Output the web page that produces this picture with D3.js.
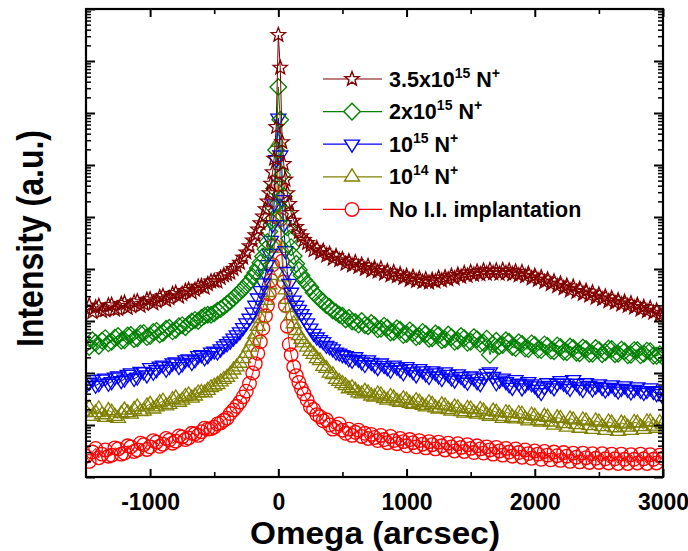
<!DOCTYPE html>
<html><head><meta charset="utf-8">
<script src="https://cdn.jsdelivr.net/npm/d3@7"></script>
<style>body{margin:0;background:#fff}svg{display:block}</style>
</head><body><svg id="c" width="688" height="551"></svg>
<script>
// Omega grid (arcsec)
const omega = [-1500,-1475,-1450,-1425,-1400,-1375,-1350,-1325,-1300,-1275,-1250,-1225,-1200,-1175,-1150,-1125,-1100,-1075,-1050,-1025,
-1000,-975,-950,-925,-900,-875,-850,-825,-800,-775,-750,-725,-700,-675,-650,-625,-600,-575,-550,-525,
-500,-475,-450,-425,-400,-375,-350,-325,-300,-275,-250,-225,
-200,-180,-160,-140,-120,-100,-85,-70,-57,-45,-33,-17,0,15,30,42,55,70,85,100,120,140,160,180,200,
225,250,275,300,325,350,375,400,425,450,475,500,525,550,575,600,625,650,675,700,725,750,775,800,825,850,875,900,925,950,975,1000,
1025,1050,1075,1100,1125,1150,1175,1200,1225,1250,1275,1300,1325,1350,1375,1400,1425,1450,1475,1500,1525,1550,1575,1600,1625,1650,1675,1700,1725,1750,1775,1800,1825,1850,1875,1900,1925,1950,1975,2000,
2025,2050,2075,2100,2125,2150,2175,2200,2225,2250,2275,2300,2325,2350,2375,2400,2425,2450,2475,2500,2525,2550,2575,2600,2625,2650,2675,2700,2725,2750,2775,2800,2825,2850,2875,2900,2925,2950,2975,3000];

// log10(intensity, a.u.) at each omega
const logI_3p5e15 = [3.23,3.30,3.17,3.26,3.29,3.19,3.21,3.30,3.31,3.22,3.23,3.33,3.35,3.25,3.29,3.36,3.38,3.29,3.33,3.41,
3.42,3.34,3.38,3.46,3.48,3.40,3.44,3.52,3.54,3.47,3.52,3.58,3.60,3.55,3.60,3.66,3.67,3.64,3.71,3.76,
3.77,3.76,3.83,3.88,3.90,3.93,4.00,4.06,4.12,4.22,4.32,4.44,
4.55,4.65,4.76,4.88,5.01,5.15,5.30,5.46,5.64,5.86,6.12,6.73,8.50,7.87,6.44,6.02,5.72,5.46,5.25,5.08,4.93,4.81,4.71,4.63,4.56,
4.50,4.45,4.36,4.40,4.31,4.35,4.26,4.29,4.20,4.25,4.17,4.19,4.10,4.15,4.07,4.13,4.04,4.08,4.00,4.06,3.97,4.02,3.95,4.01,3.91,3.96,3.88,3.94,3.86,3.90,3.83,3.87,
3.79,3.85,3.77,3.82,3.75,3.80,3.74,3.79,3.76,3.83,3.78,3.84,3.80,3.87,3.82,3.89,3.85,3.92,3.87,3.94,3.89,3.95,3.90,3.97,3.91,3.98,3.92,3.97,3.91,3.98,3.92,3.97,3.90,3.95,3.88,3.94,3.86,3.91,3.82,3.87,
3.79,3.84,3.75,3.80,3.71,3.76,3.67,3.72,3.63,3.68,3.59,3.66,3.56,3.62,3.52,3.58,3.49,3.55,3.45,3.51,3.42,3.47,3.38,3.44,3.35,3.40,3.32,3.37,3.29,3.34,3.26,3.31,3.22,3.27,3.19,3.25,3.16,3.20,3.12,3.10];
const logI_2e15 = [2.56,2.50,2.63,2.58,2.52,2.62,2.67,2.57,2.60,2.68,2.71,2.62,2.63,2.72,2.73,2.65,2.67,2.76,2.77,2.69,
2.71,2.79,2.81,2.74,2.77,2.85,2.87,2.80,2.83,2.90,2.92,2.88,2.94,2.99,3.02,3.00,3.06,3.10,3.12,3.12,
3.15,3.20,3.23,3.28,3.33,3.38,3.44,3.50,3.56,3.62,3.69,3.76,
3.85,3.93,4.02,4.12,4.24,4.38,4.52,4.72,4.93,5.20,5.55,6.29,7.50,6.87,5.81,5.40,5.08,4.80,4.58,4.42,4.25,4.10,3.98,3.88,3.79,
3.72,3.65,3.55,3.48,3.42,3.37,3.30,3.27,3.20,3.17,3.12,3.10,3.03,3.06,2.99,2.98,2.93,3.00,2.92,2.90,2.96,2.92,2.84,2.85,2.91,2.87,2.78,2.79,2.86,2.83,2.73,2.75,
2.82,2.77,2.69,2.71,2.79,2.75,2.66,2.67,2.76,2.73,2.63,2.65,2.74,2.69,2.60,2.62,2.71,2.67,2.58,2.60,2.69,2.65,2.56,2.58,2.66,2.35,2.55,2.62,2.52,2.54,2.63,2.60,2.50,2.48,2.59,2.56,2.47,2.46,2.57,2.54,
2.45,2.44,2.55,2.52,2.43,2.42,2.53,2.50,2.41,2.40,2.51,2.48,2.39,2.38,2.49,2.46,2.37,2.37,2.48,2.44,2.36,2.40,2.47,2.46,2.36,2.37,2.45,2.42,2.34,2.35,2.44,2.44,2.34,2.37,2.43,2.42,2.33,2.33,2.36,2.31];
const logI_1e15 = [1.75,1.82,1.87,1.76,1.79,1.88,1.90,1.80,1.83,1.92,1.94,1.85,1.88,1.97,2.00,1.89,1.92,2.03,2.02,1.96,
2.10,2.01,2.06,2.13,2.15,2.07,2.12,2.19,2.21,2.12,2.17,2.25,2.27,2.20,2.25,2.33,2.35,2.29,2.33,2.40,
2.42,2.40,2.46,2.52,2.56,2.61,2.67,2.73,2.79,2.87,2.96,3.05,
3.17,3.30,3.44,3.58,3.73,3.90,4.08,4.30,4.55,4.85,5.25,6.10,6.90,6.19,5.33,4.85,4.35,3.95,3.72,3.55,3.40,3.30,3.22,3.14,3.06,
2.96,2.86,2.76,2.69,2.64,2.60,2.53,2.50,2.46,2.40,2.38,2.35,2.33,2.27,2.24,2.31,2.26,2.21,2.16,2.25,2.20,2.15,2.10,2.19,2.14,2.10,2.05,2.15,2.11,2.06,2.00,2.12,
2.08,2.02,1.96,2.08,2.04,1.98,1.93,2.04,2.00,1.94,1.89,2.02,1.97,1.90,1.86,1.98,1.93,1.87,1.82,1.94,1.90,1.83,1.79,1.92,1.99,2.02,1.93,1.81,1.86,1.90,1.83,1.77,1.72,1.87,1.80,1.71,1.77,1.83,1.79,1.75,
1.68,1.62,1.73,1.81,1.76,1.71,1.80,1.85,1.80,1.75,1.70,1.87,1.80,1.73,1.68,1.81,1.76,1.69,1.74,1.79,1.72,1.67,1.72,1.77,1.70,1.65,1.70,1.75,1.68,1.63,1.68,1.73,1.66,1.62,1.66,1.71,1.64,1.60,1.66,1.54];
const logI_1e14 = [1.25,1.33,1.17,1.24,1.31,1.20,1.15,1.28,1.25,1.17,1.13,1.22,1.29,1.24,1.21,1.30,1.35,1.26,1.27,1.37,
1.40,1.31,1.35,1.43,1.46,1.37,1.40,1.49,1.52,1.44,1.48,1.55,1.58,1.52,1.56,1.62,1.63,1.62,1.67,1.72,
1.75,1.78,1.83,1.88,1.92,1.98,2.06,2.12,2.19,2.28,2.38,2.50,
2.62,2.75,2.90,3.05,3.25,3.40,3.55,3.70,3.88,4.10,4.45,5.00,6.44,5.20,4.40,3.85,3.60,3.42,3.26,3.10,2.95,2.82,2.72,2.65,2.58,
2.50,2.42,2.36,2.28,2.24,2.13,2.09,2.00,1.97,1.88,1.84,1.80,1.76,1.70,1.72,1.67,1.62,1.60,1.65,1.62,1.56,1.54,1.60,1.58,1.51,1.48,1.55,1.52,1.46,1.44,1.51,1.48,
1.42,1.40,1.47,1.44,1.38,1.35,1.43,1.40,1.33,1.31,1.39,1.37,1.30,1.27,1.35,1.33,1.26,1.23,1.32,1.31,1.24,1.21,1.30,1.27,1.20,1.17,1.27,1.25,1.17,1.13,1.24,1.23,1.15,1.12,1.22,1.21,1.12,1.08,1.19,1.17,
1.09,1.06,1.17,1.15,1.06,1.00,1.14,1.13,1.03,0.96,1.12,1.10,1.01,0.94,1.10,1.08,0.99,0.92,1.08,1.06,0.97,0.90,1.06,1.04,0.95,0.88,1.04,1.02,0.96,0.90,1.05,1.04,0.97,0.92,1.06,1.06,0.98,0.94,1.05,1.02];
const logI_none = [0.40,0.30,0.48,0.55,0.37,0.44,0.52,0.40,0.42,0.56,0.54,0.44,0.46,0.60,0.58,0.49,0.52,0.65,0.62,0.53,
0.58,0.70,0.67,0.59,0.63,0.74,0.71,0.65,0.69,0.79,0.77,0.72,0.75,0.84,0.83,0.80,0.87,0.94,0.92,0.93,
0.96,1.02,1.04,1.09,1.13,1.22,1.29,1.36,1.44,1.54,1.65,1.80,
2.00,2.18,2.38,2.60,2.86,3.10,3.30,3.52,3.78,4.08,4.45,5.00,5.62,4.95,4.15,3.75,3.30,2.90,2.55,2.35,2.12,1.95,1.82,1.70,1.60,
1.48,1.35,1.30,1.20,1.16,1.08,1.10,1.00,0.92,0.96,1.02,0.90,0.84,0.92,0.80,0.86,0.90,0.78,0.84,0.74,0.82,0.76,0.70,0.80,0.72,0.66,0.78,0.70,0.64,0.74,0.68,0.60,
0.72,0.66,0.58,0.70,0.63,0.56,0.68,0.62,0.54,0.67,0.60,0.52,0.65,0.58,0.50,0.64,0.57,0.49,0.62,0.55,0.47,0.60,0.54,0.46,0.58,0.52,0.44,0.57,0.50,0.42,0.55,0.48,0.40,0.54,0.47,0.38,0.52,0.45,0.36,0.50,
0.44,0.34,0.49,0.42,0.33,0.48,0.41,0.32,0.47,0.40,0.30,0.46,0.38,0.29,0.46,0.37,0.28,0.45,0.36,0.28,0.45,0.35,0.27,0.44,0.35,0.26,0.44,0.34,0.26,0.43,0.34,0.27,0.44,0.35,0.26,0.43,0.34,0.27,0.42,0.36];

const xMajorTicks = [-1000,0,1000,2000,3000];
const xMinorTicks = [-500,500,1500,2500];
const legendBase = ["3.5x10","2x10","10","10","No I.I. implantation"];
const legendExp = ["15","15","15","14",""];
const colors = ["#800000","#008000","#0000ff","#808000","#ff0000"];

// ---------- drawing ----------
const svg = d3.select("#c");
const L=86, R=663, T=9, B=477;
const x = d3.scaleLinear().domain([-1500,3000]).range([L,R]);
const y = d3.scaleLog().domain([1,1e9]).range([B,T]);

const symStar = {draw(c,r){const ri=r*0.42;for(let i=0;i<10;i++){const a=-Math.PI/2+i*Math.PI/5,rr=i%2?ri:r;const px=rr*Math.cos(a),py=rr*Math.sin(a);i?c.lineTo(px,py):c.moveTo(px,py);}c.closePath();}};
const symDiamond = {draw(c,r){c.moveTo(0,-r);c.lineTo(r,0);c.lineTo(0,r);c.lineTo(-r,0);c.closePath();}};
const symTriDown = {draw(c,r){c.moveTo(-r,-r*0.55);c.lineTo(r,-r*0.55);c.lineTo(0,r*1.05);c.closePath();}};
const symTriUp = {draw(c,r){c.moveTo(-r,r*0.55);c.lineTo(r,r*0.55);c.lineTo(0,-r*1.05);c.closePath();}};
const symCircle = {draw(c,r){c.moveTo(r,0);c.arc(0,0,r,0,2*Math.PI);}};

const raw = [
  {vals:logI_3p5e15, sym:symStar, r:7.5},
  {vals:logI_2e15, sym:symDiamond, r:8.3},
  {vals:logI_1e15, sym:symTriDown, r:7.5},
  {vals:logI_1e14, sym:symTriUp, r:7.5},
  {vals:logI_none, sym:symCircle, r:6.8}
];
const series = raw.map((s,i)=>({...s,color:colors[i],pts:omega.map((o,j)=>({o,v:Math.pow(10,s.vals[j])})).filter(d=>isFinite(d.v))}));

svg.append("defs").append("clipPath").attr("id","clip")
  .append("rect").attr("x",L).attr("y",T).attr("width",R-L).attr("height",B-T);

const plot = svg.append("g").attr("clip-path","url(#clip)");
const line = d3.line().x(d=>x(d.o)).y(d=>y(d.v));
series.slice().reverse().forEach(s=>{
  const g = plot.append("g");
  g.append("path").attr("d",line(s.pts)).attr("fill","none").attr("stroke",s.color).attr("stroke-width",1);
  const sym = d3.symbol().type(s.sym).size(s.r);
  g.selectAll("path.m").data(s.pts).join("path").attr("class","m")
    .attr("transform",d=>`translate(${x(d.o)},${y(d.v)})`)
    .attr("d",sym()).attr("fill","none").attr("stroke",s.color).attr("stroke-width",1.3);
});

// axes
const fontF = "'Liberation Sans', Arial, Helvetica, sans-serif";
const yMajor = d3.range(0,10).map(k=>Math.pow(10,k));
const yMinor = [];
for(let k=0;k<9;k++) for(let m=2;m<=9;m++) yMinor.push(m*Math.pow(10,k));

function styleAxis(g, w){ g.select(".domain").remove(); g.selectAll(".tick line").attr("stroke","#000").attr("stroke-width",w); }

svg.append("g").attr("transform",`translate(0,${B})`)
  .call(d3.axisBottom(x).tickValues(xMajorTicks).tickSize(-8).tickPadding(17).tickFormat(d=>String(d)))
  .call(g=>{styleAxis(g,2);g.selectAll("text").attr("font-family",fontF).attr("font-weight","bold").attr("font-size",23).attr("fill","#000");});
svg.append("g").attr("transform",`translate(0,${B})`)
  .call(d3.axisBottom(x).tickValues(xMinorTicks).tickSize(-5).tickFormat(""))
  .call(g=>styleAxis(g,1.6));
svg.append("g").attr("transform",`translate(0,${T})`)
  .call(d3.axisTop(x).tickValues(xMajorTicks).tickSize(-8).tickFormat(""))
  .call(g=>styleAxis(g,2));
svg.append("g").attr("transform",`translate(0,${T})`)
  .call(d3.axisTop(x).tickValues(xMinorTicks).tickSize(-5).tickFormat(""))
  .call(g=>styleAxis(g,1.6));
[[d3.axisLeft,L],[d3.axisRight,R]].forEach(([ax,pos])=>{
  svg.append("g").attr("transform",`translate(${pos},0)`)
    .call(ax(y).tickValues(yMajor).tickSize(-9).tickFormat(""))
    .call(g=>styleAxis(g,2));
  svg.append("g").attr("transform",`translate(${pos},0)`)
    .call(ax(y).tickValues(yMinor).tickSize(-5).tickFormat(""))
    .call(g=>styleAxis(g,1.5));
});
svg.append("rect").attr("x",L).attr("y",T).attr("width",R-L).attr("height",B-T)
  .attr("fill","none").attr("stroke","#000").attr("stroke-width",2.2);

// axis titles
svg.append("text").attr("x",375).attr("y",544).attr("text-anchor","middle")
  .attr("font-family",fontF).attr("font-weight","bold").attr("font-size",31)
  .attr("textLength",250).attr("lengthAdjust","spacingAndGlyphs").text("Omega (arcsec)");
svg.append("text").attr("transform","translate(43,238.5) rotate(-90)").attr("text-anchor","middle")
  .attr("font-family",fontF).attr("font-weight","bold").attr("font-size",37)
  .attr("textLength",217).attr("lengthAdjust","spacingAndGlyphs").text("Intensity (a.u.)");

// legend
const leg = svg.append("g");
series.forEach((s,i)=>{
  const cy = 79 + i*32.6;
  leg.append("line").attr("x1",323).attr("x2",382).attr("y1",cy).attr("y2",cy).attr("stroke",s.color).attr("stroke-width",1.2);
  leg.append("path").attr("transform",`translate(352,${cy})`).attr("d",d3.symbol().type(s.sym).size(s.r)())
    .attr("fill","#fff").attr("stroke",s.color).attr("stroke-width",1.4);
  const t = leg.append("text").attr("x",389).attr("y",cy+7.5).attr("font-family",fontF).attr("font-weight","bold").attr("font-size",21.5).attr("fill","#000");
  t.append("tspan").text(legendBase[i]);
  if(legendExp[i]){
    t.append("tspan").attr("font-size",14).attr("dy",-9).text(legendExp[i]);
    t.append("tspan").attr("dy",9).text(" N");
    t.append("tspan").attr("font-size",14).attr("dy",-9).text("+");
  }
});
</script>
</body></html>
